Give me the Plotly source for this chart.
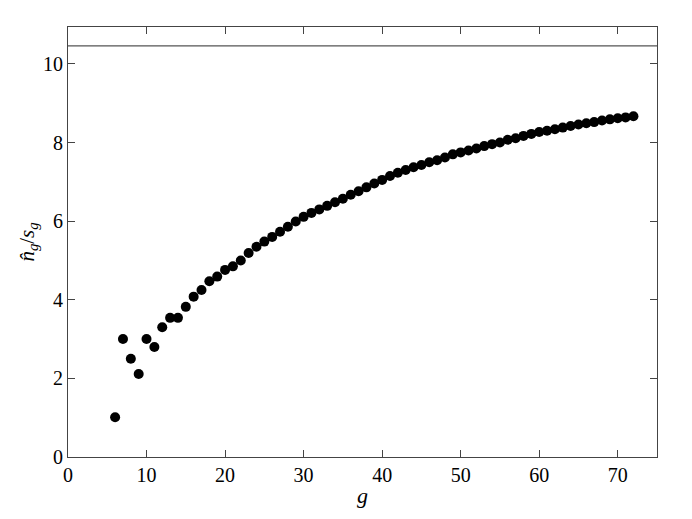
import plotly.graph_objects as go

g_values = list(range(6, 73))
ratio_values = [
    1.01, 3.00, 2.50, 2.11, 3.00, 2.80, 3.30, 3.54, 3.54, 3.82,
    4.08, 4.25, 4.47, 4.59, 4.76, 4.85, 5.00, 5.19, 5.35, 5.48,
    5.60, 5.73, 5.86, 5.99, 6.11, 6.21, 6.30, 6.39, 6.48, 6.57,
    6.67, 6.76, 6.86, 6.96, 7.05, 7.15, 7.23, 7.30, 7.37, 7.43,
    7.50, 7.55, 7.62, 7.70, 7.75, 7.80, 7.85, 7.91, 7.96, 8.00,
    8.07, 8.11, 8.17, 8.22, 8.27, 8.30, 8.34, 8.38, 8.42, 8.46,
    8.49, 8.52, 8.56, 8.59, 8.62, 8.64, 8.67,
]
reference_level = 10.46
x_ticks = [0, 10, 20, 30, 40, 50, 60, 70]
y_ticks = [0, 2, 4, 6, 8, 10]

font_family = "Liberation Serif"

fig = go.Figure()
fig.add_trace(go.Scatter(
    x=g_values, y=ratio_values, mode="markers",
    marker=dict(color="black", size=10, line=dict(width=0)),
    showlegend=False,
))
fig.add_hline(y=reference_level, line=dict(color="#555555", width=1.3))

axis_common = dict(
    showgrid=False, zeroline=False, showline=True, mirror="allticks",
    linecolor="#444444", linewidth=1.2,
    ticks="inside", ticklen=7, tickwidth=1, tickcolor="#444444",
    tickfont=dict(family=font_family, size=20, color="black"),
)

fig.update_xaxes(
    range=[0, 75], tickvals=x_ticks,
    title=dict(text="<i>g</i>", font=dict(family=font_family, size=22, color="black"), standoff=2),
    **axis_common,
)
fig.update_yaxes(
    range=[0, 10.94], tickvals=y_ticks,
    title=dict(text="<i>n\u0302</i><sub><i>g</i></sub>/<i>s</i><sub><i>g</i></sub>",
               font=dict(family=font_family, size=21, color="black"), standoff=2),
    **axis_common,
)

fig.update_layout(
    width=684, height=511,
    margin=dict(l=60, r=35, t=19, b=62),
    plot_bgcolor="white", paper_bgcolor="white",
)

fig.write_html("out.html")
